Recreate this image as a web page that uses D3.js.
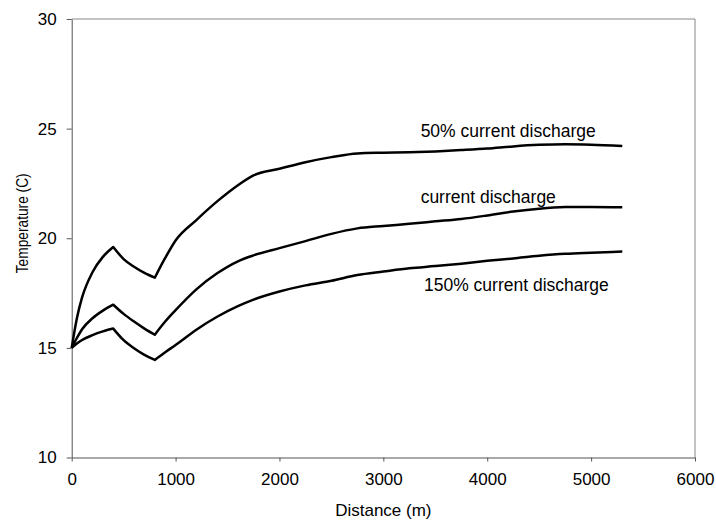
<!DOCTYPE html>
<html>
<head>
<meta charset="utf-8">
<script src="https://cdn.jsdelivr.net/npm/d3@7"></script>
<style>
  html, body { margin: 0; padding: 0; background: #fff; }
  svg { display: block; font-family: "Liberation Sans", Arial, sans-serif; }
</style>
</head>
<body>
<svg id="chart" width="716" height="521"></svg>
<script>
// Distance along the river (m)
const distance = [0, 50, 100, 200, 300, 400, 500, 600, 700, 800, 900, 1000, 1200, 1400, 1600, 1750,
  2000, 2250, 2500, 2750, 3000, 3250, 3500, 3750, 4000, 4250, 4500, 4750, 5000, 5300];

// Water temperature (C) for each discharge scenario
const temp50 = [15.0, 16.35, 17.3, 18.45, 19.15, 19.6, 19.05, 18.7, 18.42, 18.2, 19.1, 19.9, 20.83, 21.68, 22.42, 22.87,
  23.17, 23.47, 23.7, 23.87, 23.9, 23.92, 23.96, 24.02, 24.09, 24.19, 24.26, 24.29, 24.27, 24.21];
const tempCurrent = [15.0, 15.45, 15.85, 16.35, 16.7, 16.97, 16.55, 16.2, 15.88, 15.6, 16.2, 16.72, 17.67, 18.4, 18.95, 19.22,
  19.55, 19.87, 20.2, 20.45, 20.56, 20.66, 20.77, 20.88, 21.04, 21.22, 21.35, 21.42, 21.43, 21.41];
const temp150 = [15.0, 15.2, 15.36, 15.58, 15.75, 15.88, 15.35, 14.98, 14.68, 14.45, 14.8, 15.13, 15.83, 16.42, 16.9, 17.2,
  17.57, 17.85, 18.06, 18.32, 18.48, 18.63, 18.73, 18.84, 18.97, 19.08, 19.2, 19.29, 19.34, 19.39];

// Reach boundaries (m) where the profiles change abruptly
const breakPoints = [400, 800];

const xTicks = [0, 1000, 2000, 3000, 4000, 5000, 6000];
const yTicks = [10, 15, 20, 25, 30];

// Curve labels: text, anchor distance, anchor temperature
const labelText = ["50% current discharge", "current discharge", "150% current discharge"];
const labelX = [3359, 3359, 3391];
const labelY = [24.64, 21.59, 17.59];

const seriesList = [temp50, tempCurrent, temp150];

const svg = d3.select("#chart");
const plotLeft = 71.7, plotRight = 695, plotTop = 19, plotBottom = 457.5;

const x = d3.scaleLinear().domain([0, 6000]).range([plotLeft, plotRight]);
const y = d3.scaleLinear().domain([10, 30]).range([plotBottom, plotTop]);

// Plot-area frame (top and right edges)
svg.append("path")
  .attr("d", `M${plotLeft},${plotTop}H${plotRight}V${plotBottom}`)
  .attr("fill", "none")
  .attr("stroke", "#888")
  .attr("stroke-width", 1);

// Axes
const xAxis = svg.append("g")
  .attr("transform", `translate(0,${plotBottom})`)
  .call(d3.axisBottom(x).tickValues(xTicks).tickFormat(d3.format("d")).tickSize(4).tickSizeOuter(0).tickPadding(11));
const yAxis = svg.append("g")
  .attr("transform", `translate(${plotLeft},0)`)
  .call(d3.axisLeft(y).tickValues(yTicks).tickFormat(d3.format("d")).tickSize(5).tickSizeOuter(0).tickPadding(10));

[xAxis, yAxis].forEach(g => {
  g.select(".domain").attr("stroke", "#555").attr("stroke-width", 1);
  g.selectAll(".tick line").attr("stroke", "#555");
  g.selectAll(".tick text")
    .attr("fill", "#000")
    .style("font-size", "17px")
    .style("font-family", "'Liberation Sans', Arial, sans-serif");
});

// Temperature profiles: smooth within each reach, sharp corners at reach boundaries
const line = d3.line()
  .x(d => x(d[0]))
  .y(d => y(d[1]))
  .curve(d3.curveMonotoneX);

function profilePath(values) {
  const pts = distance.map((dist, i) => [dist, values[i]]);
  const cuts = [0, ...breakPoints.map(b => distance.indexOf(b)), pts.length - 1];
  let d = "";
  for (let k = 0; k < cuts.length - 1; k++) {
    const seg = line(pts.slice(cuts[k], cuts[k + 1] + 1));
    d += k === 0 ? seg : seg.replace(/^M[^A-Za-z]*/, "");
  }
  return d;
}

svg.append("g")
  .selectAll("path")
  .data(seriesList)
  .join("path")
  .attr("d", profilePath)
  .attr("fill", "none")
  .attr("stroke", "#000")
  .attr("stroke-width", 2.5)
  .attr("stroke-linejoin", "round");

// Curve labels
svg.append("g")
  .selectAll("text")
  .data(labelText)
  .join("text")
  .attr("x", (d, i) => x(labelX[i]))
  .attr("y", (d, i) => y(labelY[i]))
  .style("font-size", "17.5px")
  .attr("fill", "#000")
  .text(d => d);

// Axis titles
svg.append("text")
  .attr("x", (plotLeft + plotRight) / 2)
  .attr("y", 516)
  .attr("text-anchor", "middle")
  .style("font-size", "17px")
  .text("Distance (m)");

svg.append("text")
  .attr("transform", `translate(28,223.3) rotate(-90)`)
  .attr("text-anchor", "middle")
  .attr("textLength", 100)
  .attr("lengthAdjust", "spacingAndGlyphs")
  .style("font-size", "17px")
  .text("Temperature (C)");
</script>
</body>
</html>
